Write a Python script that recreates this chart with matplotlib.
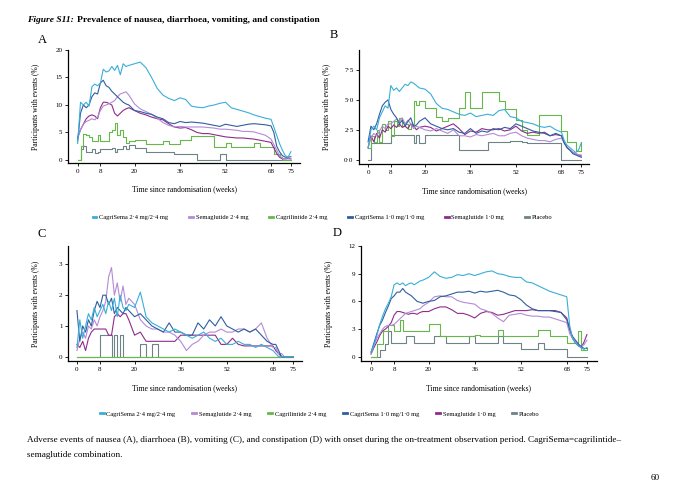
import matplotlib
matplotlib.use('Agg')
import matplotlib.pyplot as plt
from matplotlib.lines import Line2D

plt.rcParams['font.family'] = ['Liberation Serif', 'DejaVu Serif']

# shared week grid for all curves
weeks = [0, 1, 2, 3, 4, 5, 6, 7, 8, 9,
         10, 11, 12, 13, 14, 15, 16, 17, 18,
         20, 22, 24, 26, 28, 30, 32, 34, 36, 38,
         40, 42, 44, 46, 48, 50, 52, 54, 56, 58,
         60, 62, 64, 66, 68,
         69, 70, 71, 72, 73, 74, 75]

groups = ['CagriSema 2\u00b74 mg/2\u00b74 mg', 'Semaglutide 2\u00b74 mg', 'Cagrilintide 2\u00b74 mg',
          'CagriSema 1\u00b70 mg/1\u00b70 mg', 'Semaglutide 1\u00b70 mg', 'Placebo']
colors = ['#3aaed8', '#b48ad6', '#66b84a', '#2f5f9e', '#8e2c8c', '#6f8287']

x_ticks = [0, 8, 20, 36, 52, 68, 75]

# ---- A: nausea ----
a_cs24 = [3.0, 10.5, 10.0, 10.5, 9.8, 13.3, 13.8, 13.5, 14.0, 16.5,
          16.0, 16.2, 17.0, 16.3, 17.2, 15.5, 17.5, 17.0, 17.2,
          17.5, 17.8, 16.8, 15.0, 13.0, 11.8, 11.2, 10.8, 11.3, 11.0,
          9.8, 9.6, 9.5, 9.8, 10.0, 10.3, 10.5, 9.5, 9.2, 8.9,
          8.6, 8.2, 7.9, 7.6, 7.4,
          6.0, 4.5, 3.0, 1.8, 0.8, 0.5, 1.5]
a_s24 = [4.0, 5.5, 6.5, 7.0, 7.2, 7.5, 7.3, 7.8, 9.0, 9.8,
         10.0, 10.2, 10.5, 10.8, 11.5, 12.0, 12.2, 12.4, 11.8,
         10.2, 9.3, 8.8, 8.3, 7.6, 6.8, 6.3, 6.0, 6.1, 6.0,
         6.0, 6.0, 6.0, 5.9, 5.8, 5.6, 5.6, 5.5, 5.4, 5.2,
         5.2, 5.1, 4.8, 4.5, 3.8,
         2.8, 1.8, 0.8, 0.3, 0.2, 0.2, 0.2]
a_cg24 = [0.0, 2.5, 4.7, 4.5, 4.2, 3.5, 3.5, 4.5, 3.5, 3.5,
          3.5, 5.0, 5.5, 6.8, 4.5, 5.5, 4.2, 3.0, 3.4,
          3.6, 3.6, 2.9, 2.9, 2.9, 3.5, 2.9, 2.9, 3.6, 3.6,
          4.4, 4.4, 4.4, 4.4, 2.4, 2.4, 3.0, 2.4, 2.4, 2.4,
          2.4, 3.0, 2.4, 2.4, 2.4,
          1.0, 1.0, 0.5, 0.0, 0.0, 0.0, 0.0]
a_cs10 = [3.5, 8.5, 10.0, 9.5, 10.0, 11.5, 12.2, 12.0, 14.0, 14.5,
          13.5, 13.2, 12.5, 12.0, 11.5, 11.0, 10.5, 10.2, 10.0,
          9.0, 8.8, 8.5, 8.3, 7.8, 7.5, 6.8, 6.6, 7.0, 6.8,
          6.9, 6.8, 6.7, 6.5, 6.3, 6.1, 6.5, 6.3, 6.1, 6.3,
          6.5, 6.6, 6.5, 6.4, 6.2,
          5.0, 2.5, 1.5, 0.8, 0.5, 0.5, 0.6]
a_s10 = [4.0, 5.5, 6.5, 7.5, 8.0, 8.2, 8.0, 7.5, 9.5, 10.5,
         10.5, 10.3, 10.0, 8.5, 8.0, 8.5, 9.0, 9.3, 9.5,
         9.0, 8.5, 8.2, 7.8, 7.5, 7.3, 6.6, 6.0, 5.8, 5.9,
         5.5, 5.0, 4.8, 4.8, 4.6, 4.4, 4.2, 4.1, 4.0, 4.0,
         3.9, 3.8, 3.6, 3.4, 3.2,
         2.2, 1.2, 0.5, 0.2, 0.2, 0.3, 0.2]
a_pl = [0.0, 2.0, 2.5, 1.5, 1.5, 2.0, 1.2, 1.5, 2.0, 2.0,
        2.0, 2.0, 2.2, 1.5, 2.0, 2.0, 2.5, 2.0, 2.7,
        2.2, 2.2, 1.5, 1.5, 1.5, 1.5, 1.5, 1.0, 1.0, 1.0,
        1.0, 0.0, 0.0, 0.0, 0.0, 1.0, 0.0, 0.0, 0.0, 0.0,
        0.0, 0.0, 0.0, 0.0, 0.0,
        0.0, 0.0, 0.0, 0.0, 0.0, 0.0, 0.0]

# ---- B: diarrhoea ----
b_cs24 = [1.0, 2.5, 2.8, 2.5, 3.5, 4.0, 4.5, 4.3, 6.2, 5.8,
          6.0, 5.7, 6.0, 6.3, 6.2, 6.5, 6.4, 6.2, 6.0,
          5.9, 5.5, 4.7, 4.3, 4.2, 4.0, 3.8, 3.7, 3.9, 3.6,
          3.7, 3.8, 3.7, 4.1, 4.2, 3.6, 3.5, 3.2, 3.1, 3.0,
          2.8, 2.7, 2.8, 2.5, 2.3,
          1.6, 1.2, 1.0, 0.8, 0.6, 0.8, 1.4]
b_s24 = [1.0, 1.8, 2.2, 2.0, 2.4, 2.8, 2.6, 3.0, 3.0, 3.2,
         3.4, 3.2, 3.5, 3.0, 3.3, 3.0, 2.6, 2.8, 2.7,
         2.5, 2.4, 2.6, 2.4, 2.2, 2.5, 2.0, 2.0, 1.9, 2.1,
         2.0, 2.1, 2.2, 2.0, 2.0, 2.2, 2.3, 2.0, 1.8, 1.7,
         1.6, 1.6, 1.5, 1.7, 1.8,
         1.4, 1.0, 0.8, 0.6, 0.5, 0.4, 0.4]
b_cg24 = [1.0, 2.0, 1.5, 2.5, 1.5, 3.0, 2.5, 3.2, 2.0, 3.2,
          2.8, 3.5, 2.8, 3.0, 2.6, 3.0, 4.9, 4.6, 4.9,
          4.3, 4.3, 3.6, 3.2, 3.5, 3.5, 4.3, 5.7, 4.3, 4.3,
          5.7, 5.7, 5.7, 4.9, 4.2, 4.2, 3.3, 2.5, 2.1, 2.1,
          3.7, 3.7, 3.7, 3.7, 2.4,
          2.4, 1.5, 1.5, 1.5, 0.7, 0.7, 1.5]
b_cs10 = [1.5, 2.8, 2.5, 3.0, 3.8, 4.5, 4.8, 5.0, 4.2, 3.8,
          3.5, 3.0, 3.3, 2.8, 3.2, 3.5, 2.8, 2.9, 3.2,
          3.5, 3.0, 2.8, 2.6, 2.5, 2.6, 2.3, 2.2, 2.6, 2.2,
          2.4, 2.3, 2.6, 2.5, 2.7, 2.6, 3.0, 2.8, 2.6, 2.4,
          2.3, 2.2, 2.0, 2.2, 2.0,
          1.4, 1.0, 0.8, 0.5, 0.4, 0.3, 0.2]
b_s10 = [1.0, 2.0, 1.5, 2.2, 1.8, 2.5, 2.3, 2.8, 2.6, 2.9,
         2.7, 3.0, 2.7, 2.8, 2.6, 3.0, 2.8, 2.5, 2.7,
         2.8, 2.7, 2.4, 2.6, 2.8, 3.0, 2.6, 2.1, 2.4, 2.3,
         2.6, 2.5, 2.5, 2.6, 2.4, 2.5, 2.8, 2.4, 2.2, 2.3,
         2.2, 2.3, 2.0, 2.1, 2.0,
         1.4, 1.0, 0.8, 0.6, 0.5, 0.4, 0.3]
b_pl = [0.0, 1.4, 1.4, 1.4, 1.4, 1.4, 1.4, 1.4, 2.1, 2.1,
        2.1, 2.1, 2.1, 2.1, 2.1, 2.1, 1.4, 2.1, 1.4,
        2.1, 2.1, 2.1, 2.1, 2.1, 2.1, 0.8, 0.8, 0.8, 0.8,
        0.8, 1.5, 1.5, 1.5, 1.5, 1.6, 1.6, 1.5, 1.4, 1.4,
        1.4, 1.4, 1.4, 1.4, 0.0,
        0.0, 0.0, 0.0, 0.0, 0.0, 0.0, 0.0]

# ---- C: vomiting ----
c_cs24 = [0.3, 1.2, 0.6, 1.0, 1.4, 1.2, 1.6, 1.3, 1.5, 1.7,
          1.4, 1.8, 1.5, 1.9, 1.3, 2.0, 1.6, 1.5, 1.7,
          1.6, 2.1, 1.3, 1.1, 1.0, 0.9, 0.8, 0.9, 0.8, 0.7,
          0.6, 0.7, 0.8, 0.6, 0.5, 0.6, 0.4, 0.4, 0.5, 0.4,
          0.4, 0.3, 0.4, 0.3, 0.2,
          0.1, 0.0, 0.0, 0.0, 0.0, 0.0, 0.0]
c_s24 = [0.2, 0.6, 0.8, 0.6, 1.0, 0.9, 1.2, 1.0, 1.3, 1.5,
         1.8, 2.6, 2.9, 2.0, 2.4, 1.8, 2.3, 1.7, 1.9,
         1.7, 1.2, 1.0, 0.9, 0.9, 0.8, 0.8, 0.7, 0.5, 0.2,
         0.4, 0.5, 0.7, 0.8, 0.8, 0.9, 0.8, 0.8, 0.9, 0.9,
         0.8, 0.9, 1.1, 0.6, 0.3,
         0.3, 0.1, 0.1, 0.0, 0.0, 0.0, 0.0]
c_cg24 = [0.0] * 51
c_cs10 = [1.5, 0.5, 1.0, 0.8, 1.2, 1.0, 1.5, 1.8, 1.6, 2.0,
          2.0, 1.7, 1.9, 1.4, 1.6, 1.5, 1.4, 1.6, 1.5,
          1.3, 1.4, 1.2, 1.0, 0.9, 0.8, 1.1, 0.8, 0.8, 0.7,
          0.7, 1.1, 0.9, 1.2, 1.0, 1.3, 1.0, 0.9, 0.8, 0.9,
          0.8, 0.9, 0.7, 0.5, 0.4,
          0.4, 0.2, 0.0, 0.0, 0.0, 0.0, 0.0]
c_s10 = [0.4, 0.3, 0.5, 0.2, 0.6, 0.8, 0.9, 0.9, 0.9, 0.9,
         0.9, 0.7, 0.7, 1.3, 1.4, 1.3, 1.4, 1.4, 1.2,
         0.7, 0.8, 0.5, 0.5, 0.5, 0.5, 0.5, 0.5, 0.7, 0.7,
         0.7, 0.7, 0.7, 0.7, 0.7, 0.4, 0.4, 0.6, 0.4, 0.35,
         0.35, 0.35, 0.35, 0.35, 0.35,
         0.2, 0.1, 0.0, 0.0, 0.0, 0.0, 0.0]
c_pl = [0.0, 0.0, 0.0, 0.0, 0.0, 0.0, 0.0, 0.0, 0.7, 0.7,
        0.7, 0.7, 0.0, 0.7, 0.0, 0.7, 0.0, 0.0, 0.0,
        0.0, 0.4, 0.0, 0.4, 0.0, 0.0, 0.0, 0.0, 0.0, 0.0,
        0.0, 0.0, 0.0, 0.0, 0.0, 0.0, 0.0, 0.0, 0.0, 0.0,
        0.0, 0.0, 0.0, 0.0, 0.0,
        0.0, 0.0, 0.0, 0.0, 0.0, 0.0, 0.0]

# ---- D: constipation ----
d_cs24 = [0.5, 1.3, 2.3, 3.5, 4.4, 5.2, 5.8, 6.5, 7.8, 8.0,
          7.8, 8.0, 7.7, 7.9, 8.0, 7.8, 8.0, 8.2, 8.3,
          8.6, 9.2, 8.7, 8.5, 8.6, 8.9, 8.8, 9.0, 8.8, 9.0,
          9.2, 9.3, 9.0, 8.9, 8.7, 8.6, 8.6, 8.1, 8.0, 7.7,
          7.4, 7.1, 6.9, 6.7, 6.5,
          3.4, 2.0, 1.5, 1.2, 1.0, 0.8, 1.0]
d_s24 = [0.3, 1.2, 2.0, 2.5, 3.0, 3.3, 3.4, 3.4, 3.5, 3.8,
         4.1, 4.4, 4.7, 4.8, 4.9, 5.0, 5.1, 5.2, 5.5,
         5.9, 6.5, 6.6, 6.5, 6.5, 6.1, 5.9, 5.8, 5.7, 5.2,
         5.0, 4.7, 4.2, 3.8, 4.5, 4.6, 4.7, 4.5, 4.4, 4.4,
         4.3, 4.3, 4.1, 3.9, 3.7,
         2.5, 2.0, 1.6, 1.3, 1.1, 1.3, 1.8]
d_cg24 = [0.0, 0.0, 1.4, 1.4, 2.8, 2.8, 3.4, 3.4, 2.8, 2.8,
          4.0, 2.8, 2.8, 2.8, 2.8, 2.8, 2.8, 2.8, 2.8,
          3.5, 3.6, 2.2, 2.2, 2.2, 2.2, 2.2, 2.2, 2.4, 2.2,
          2.2, 2.2, 2.9, 2.2, 2.2, 2.2, 2.2, 2.2, 2.2, 2.9,
          2.9, 2.2, 2.2, 2.2, 1.5,
          1.5, 1.5, 1.5, 2.8, 0.7, 0.7, 1.0]
d_cs10 = [0.5, 1.5, 2.5, 3.4, 4.0, 4.8, 5.5, 6.3, 6.6, 7.0,
          7.0, 7.4, 7.0, 6.8, 6.6, 6.3, 6.0, 5.9, 5.8,
          6.0, 6.1, 6.5, 6.6, 6.8, 7.0, 7.0, 7.1, 6.9, 7.1,
          7.0, 7.1, 7.2, 7.0, 6.7, 6.6, 6.2, 5.6, 5.2, 5.0,
          5.0, 5.0, 4.9, 4.8, 4.0,
          3.0, 2.2, 1.8, 1.4, 1.1, 0.9, 0.9]
d_s10 = [0.3, 1.0, 1.6, 2.3, 2.8, 3.0, 3.3, 3.7, 4.5, 4.9,
         4.9, 4.8, 4.7, 4.6, 4.7, 4.7, 4.6, 4.8, 4.9,
         4.9, 5.2, 5.4, 5.4, 5.1, 4.7, 4.7, 4.5, 4.2, 4.7,
         4.9, 4.8, 4.5, 4.6, 4.8, 5.0, 5.0, 5.0, 5.1, 5.0,
         5.0, 5.0, 5.0, 4.8, 4.2,
         3.0, 2.0, 1.5, 1.2, 1.0, 1.6, 2.4]
d_pl = [0.0, 0.0, 0.0, 0.7, 0.7, 1.4, 2.8, 1.5, 1.5, 1.5,
        1.5, 1.5, 2.2, 2.2, 2.2, 1.5, 1.5, 1.5, 1.5,
        1.5, 2.2, 2.2, 1.5, 1.5, 1.5, 1.5, 2.2, 1.5, 1.5,
        1.5, 1.5, 2.2, 1.5, 1.5, 1.5, 0.8, 0.8, 0.8, 1.5,
        0.8, 0.8, 0.8, 0.8, 0.0,
        0.0, 0.0, 0.0, 0.0, 0.0, 0.0, 0.0]

panels = [
    ('A', [a_cs24, a_s24, a_cg24, a_cs10, a_s10, a_pl], [0, 5, 10, 15, 20], ['0', '5', '10', '15', '20'],
     [68, 50, 300, 163], (-3.4, 78.2), (-0.55, 20)),
    ('B', [b_cs24, b_s24, b_cg24, b_cs10, b_s10, b_pl], [0, 2.5, 5, 7.5], ['0\u00b70', '2\u00b75', '5\u00b70', '7\u00b75'],
     [359, 50, 589, 164], (-3.2, 77.7), (-0.36, 9.17)),
    ('C', [c_cs24, c_s24, c_cg24, c_cs10, c_s10, c_pl], [0, 1, 2, 3], ['0', '1', '2', '3'],
     [68, 246, 302, 361], (-3.1, 78.1), (-0.14, 3.6)),
    ('D', [d_cs24, d_s24, d_cg24, d_cs10, d_s10, d_pl], [0, 3, 6, 9, 12], ['0', '3', '6', '9', '12'],
     [361, 246, 597, 361], (-3.5, 78.5), (-0.46, 12)),
]
letter_pos = {'A': (38, 40), 'B': (330, 35), 'C': (37, 234), 'D': (333, 233)}

W, H = 680, 483
fig = plt.figure(figsize=(W / 100, H / 100), dpi=100)

draw_order = [5, 2, 4, 1, 3, 0]
for letter, series, yt, ytl, box, xl, yl in panels:
    l, t, r, b = box
    ax = fig.add_axes([l / W, 1 - b / H, (r - l) / W, (b - t) / H])
    for i in draw_order:
        style = 'steps-post' if i in (2, 5) else 'default'
        ax.plot(weeks, series[i], color=colors[i], lw=0.8, drawstyle=style)
    ax.set_xlim(*xl)
    ax.set_ylim(*yl)
    ax.set_xticks(x_ticks)
    ax.set_xticklabels([str(v) for v in x_ticks])
    ax.set_yticks(yt)
    ax.set_yticklabels(ytl)
    for s in ['top', 'right']:
        ax.spines[s].set_visible(False)
    for s in ['left', 'bottom']:
        ax.spines[s].set_linewidth(0.9)
    ax.tick_params(labelsize=5, length=2, width=0.6, pad=2)
    ax.set_ylabel('Participants with events (%)', fontsize=5.5)
    ax.set_xlabel('Time since randomisation (weeks)', fontsize=5.5)
    ax.yaxis.set_label_coords(-0.12, 0.5)
    ax.xaxis.set_label_coords(0.5, -0.2)
    lx, ly = letter_pos[letter]
    fig.text(lx / W, 1 - ly / H, letter, fontsize=9, ha='left', va='center')

handles = [Line2D([0], [0], color=c, lw=2) for c in colors]
# (y position in px, x centre, column spacing) for the two legend rows
for ly, cx, cs in ((217, 0.474, 3.2), (414, 0.470, 2.6)):
    fig.legend(handles, groups, loc='center', bbox_to_anchor=(cx, 1 - ly / H), ncol=6,
               frameon=False, fontsize=4.7, handlelength=0.6, handletextpad=0.4, columnspacing=cs)

# title: italic bold lead-in, then bold text right after it
t1 = fig.text(27 / W, 1 - 20 / H, 'Figure S11:', fontsize=6.8, fontweight='bold', fontstyle='italic',
              ha='left', va='center')
renderer = fig.canvas.get_renderer()
ext = t1.get_window_extent(renderer=renderer)
fig.text((ext.x1 + 3) / W, 1 - 20 / H, 'Prevalence of nausea, diarrhoea, vomiting, and constipation',
         fontsize=6.8, fontweight='bold', ha='left', va='center')

fig.text(27 / W, 1 - 440 / H,
         'Adverse events of nausea (A), diarrhoea (B), vomiting (C), and constipation (D) with onset during '
         'the on-treatment observation period. CagriSema=cagrilintide\u2013',
         fontsize=6.6, ha='left', va='center')
fig.text(27 / W, 1 - 455 / H, 'semaglutide combination.', fontsize=6.6, ha='left', va='center')
fig.text(660 / W, 1 - 478 / H, '60', fontsize=6.6, ha='right', va='center')

fig.savefig('out.png', dpi=100)
